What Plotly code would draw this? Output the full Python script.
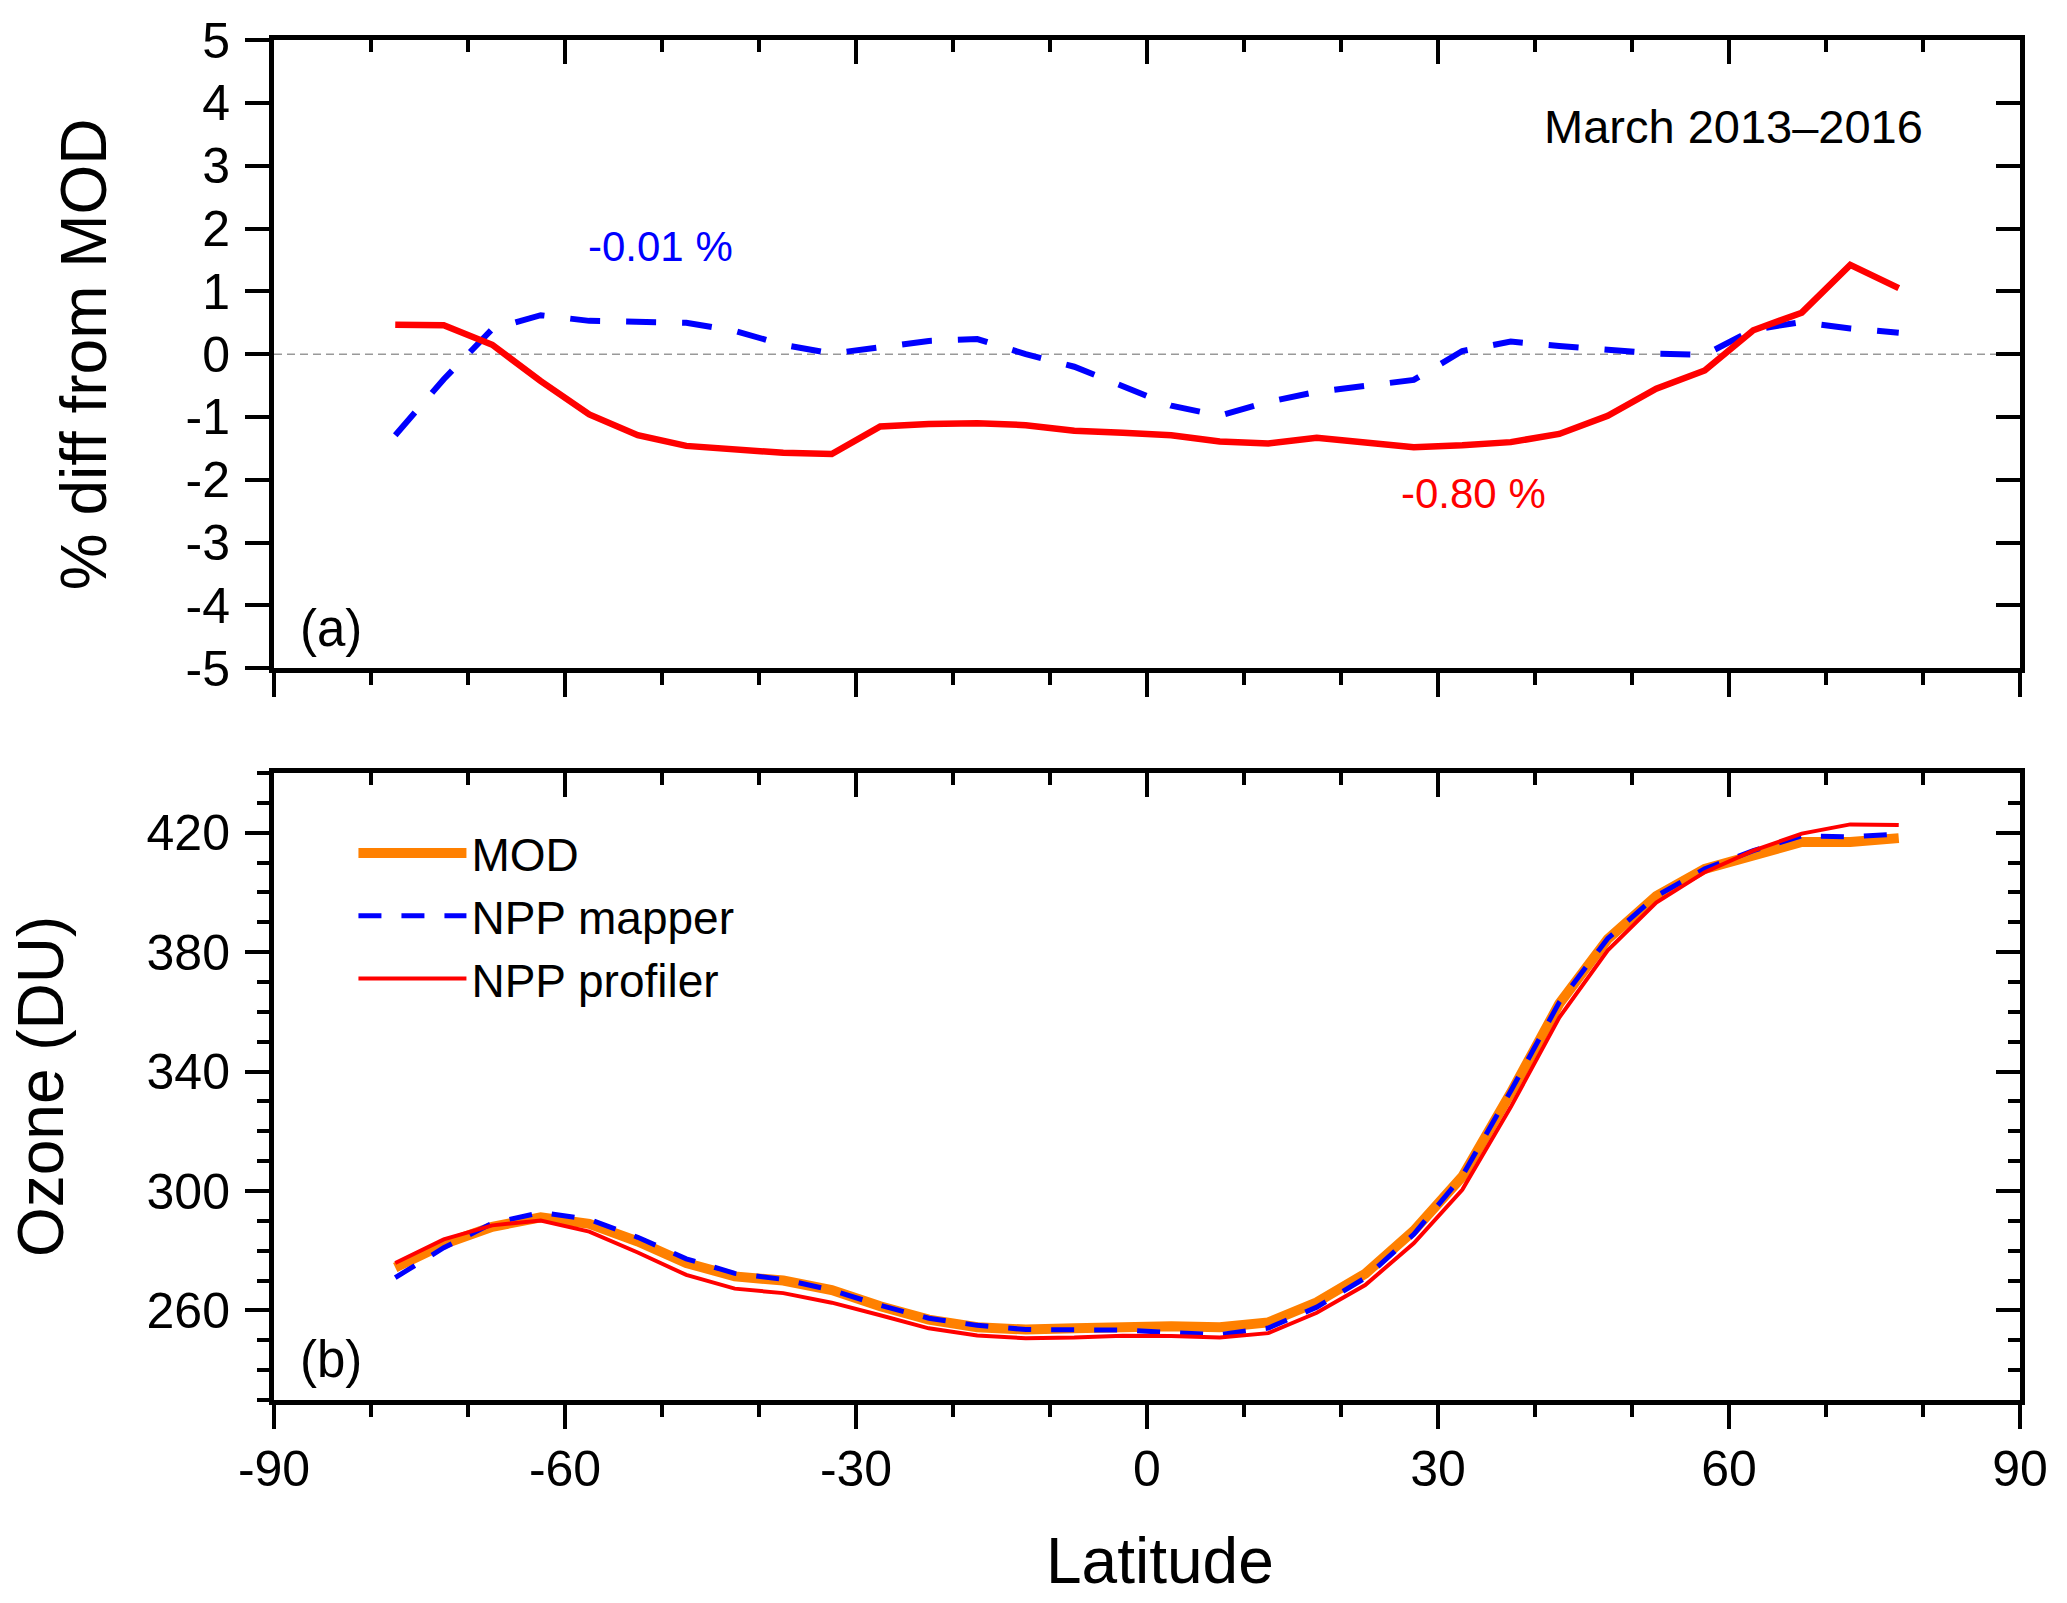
import plotly.graph_objects as go

# latitude bin centres (deg)
lat = [-77.5, -72.5, -67.5, -62.5, -57.5, -52.5, -47.5, -42.5, -37.5, -32.5,
       -27.5, -22.5, -17.5, -12.5, -7.5, -2.5, 2.5, 7.5, 12.5, 17.5,
       22.5, 27.5, 32.5, 37.5, 42.5, 47.5, 52.5, 57.5, 62.5, 67.5, 72.5, 77.5]

# (a) % difference from MOD
diff_mapper = [-1.29, -0.40, 0.40, 0.62, 0.53, 0.52, 0.50, 0.37, 0.15, 0.01,
               0.11, 0.21, 0.24, 0.00, -0.20, -0.50, -0.82, -0.98, -0.76, -0.60,
               -0.51, -0.41, 0.05, 0.20, 0.13, 0.06, 0.01, -0.01, 0.39, 0.51, 0.41, 0.34]
diff_profiler = [0.47, 0.46, 0.15, -0.43, -0.96, -1.29, -1.46, -1.51, -1.57, -1.59,
                 -1.15, -1.11, -1.10, -1.13, -1.22, -1.25, -1.29, -1.39, -1.42, -1.33,
                 -1.40, -1.48, -1.45, -1.40, -1.27, -0.98, -0.55, -0.26, 0.38, 0.66, 1.42, 1.05]

# (b) total ozone (DU)
ozone_mod = [274.4, 282.2, 288.0, 291.2, 289.0, 283.1, 275.9, 271.4, 270.0, 266.8,
             261.4, 256.9, 254.4, 253.6, 254.0, 254.7, 254.7, 254.4, 256.0, 262.7,
             272.3, 286.7, 304.8, 332.8, 362.7, 384.4, 398.8, 407.9, 412.4, 416.9, 416.9, 418.2]
ozone_mapper = [271.0, 281.0, 289.2, 292.8, 290.5, 284.5, 277.3, 272.4, 270.4, 266.8,
                261.7, 257.4, 255.0, 253.6, 253.5, 253.4, 252.6, 251.9, 254.1, 261.1,
                270.9, 285.5, 305.0, 333.5, 363.2, 384.6, 398.8, 407.9, 414.0, 419.0, 418.6, 419.6]
ozone_profiler = [275.9, 283.8, 288.5, 290.1, 286.4, 279.4, 271.9, 267.3, 265.8, 262.6,
                  258.4, 254.0, 251.6, 250.7, 250.9, 251.5, 251.4, 250.9, 252.4, 259.2,
                  268.5, 282.5, 300.4, 328.1, 358.1, 380.6, 396.6, 406.8, 414.0, 419.7, 422.8, 422.6]

lat_ticks = [-90, -60, -30, 0, 30, 60, 90]
lat_labels = ["-90", "-60", "-30", "0", "30", "60", "90"]
diff_ticks = [-5, -4, -3, -2, -1, 0, 1, 2, 3, 4, 5]
diff_labels = ["-5", "-4", "-3", "-2", "-1", "0", "1", "2", "3", "4", "5"]
ozone_ticks = [260, 300, 340, 380, 420]

FONT = "Arial, Liberation Sans, sans-serif"
BLUE = "#0000ff"
RED = "#ff0000"
ORANGE = "#ff8000"

fig = go.Figure()

# panel (a)
fig.add_scatter(x=lat, y=diff_mapper, mode="lines", showlegend=False,
                line=dict(color=BLUE, width=6, dash="30px,26px"), xaxis="x", yaxis="y")
fig.add_scatter(x=lat, y=diff_profiler, mode="lines", showlegend=False,
                line=dict(color=RED, width=6.5), xaxis="x", yaxis="y")

# panel (b)
fig.add_scatter(x=lat, y=ozone_mod, mode="lines", name="MOD",
                line=dict(color=ORANGE, width=10), xaxis="x2", yaxis="y2")
fig.add_scatter(x=lat, y=ozone_mapper, mode="lines", name="NPP mapper",
                line=dict(color=BLUE, width=5, dash="23px,20px"), xaxis="x2", yaxis="y2")
fig.add_scatter(x=lat, y=ozone_profiler, mode="lines", name="NPP profiler",
                line=dict(color=RED, width=4), xaxis="x2", yaxis="y2")

# empty traces so the mirrored (inward tick) axes get drawn
for xa, ya in [("x3", "y"), ("x", "y3"), ("x4", "y2"), ("x2", "y4")]:
    fig.add_scatter(x=[None], y=[None], mode="lines", showlegend=False,
                    hoverinfo="skip", xaxis=xa, yaxis=ya)

base = dict(showgrid=False, zeroline=False, linecolor="black", linewidth=5,
            tickcolor="black", tickwidth=4, ticklen=24,
            tickfont=dict(family=FONT, size=50, color="black"))
minor_out = dict(ticks="outside", ticklen=12, tickwidth=4, tickcolor="black")
minor_in = dict(ticks="inside", ticklen=12, tickwidth=4, tickcolor="black")

dom_a = [0.538, 1.0]
dom_b = [0.0, 0.461]

fig.update_layout(
    width=2067, height=1603,
    margin=dict(l=274, r=47, t=38, b=203),
    plot_bgcolor="white", paper_bgcolor="white",
    font=dict(family=FONT, color="black"),
    xaxis=dict(base, domain=[0, 1], anchor="y", range=[-90, 90], tickmode="array",
               tickvals=lat_ticks, showticklabels=False, showline=True, mirror=True,
               ticks="outside", minor=dict(minor_out, dtick=10, tick0=-90)),
    xaxis3=dict(base, overlaying="x", side="top", anchor="y", range=[-90, 90],
                tickmode="array", tickvals=lat_ticks, showticklabels=False,
                showline=False, ticks="inside", minor=dict(minor_in, dtick=10, tick0=-90)),
    yaxis=dict(base, domain=dom_a, anchor="x", range=[-5, 5], tickmode="array",
               tickvals=diff_ticks, ticktext=diff_labels, showline=True, mirror=True,
               ticks="outside", ticklabelstandoff=5),
    yaxis3=dict(base, overlaying="y", side="right", anchor="x", range=[-5, 5],
                tickmode="array", tickvals=diff_ticks, showticklabels=False,
                showline=False, ticks="inside"),
    xaxis2=dict(base, domain=[0, 1], anchor="y2", range=[-90, 90], tickmode="array",
                tickvals=lat_ticks, ticktext=lat_labels, showline=True, mirror=True,
                ticks="outside", ticklabelstandoff=-3,
                minor=dict(minor_out, dtick=10, tick0=-90)),
    xaxis4=dict(base, overlaying="x2", side="top", anchor="y2", range=[-90, 90],
                tickmode="array", tickvals=lat_ticks, showticklabels=False,
                showline=False, ticks="inside", minor=dict(minor_in, dtick=10, tick0=-90)),
    yaxis2=dict(base, domain=dom_b, anchor="x2", range=[230, 440], tickmode="array",
                tickvals=ozone_ticks, showline=True, mirror=True, ticks="outside",
                ticklabelstandoff=5, minor=dict(minor_out, dtick=10, tick0=0)),
    yaxis4=dict(base, overlaying="y2", side="right", anchor="x2", range=[230, 440],
                tickmode="array", tickvals=ozone_ticks, showticklabels=False,
                showline=False, ticks="inside", minor=dict(minor_in, dtick=10, tick0=0)),
    legend=dict(x=0.0455, y=0.429, xanchor="left", yanchor="top",
                font=dict(family=FONT, size=46, color="black"),
                bgcolor="rgba(0,0,0,0)", itemwidth=108, tracegroupgap=0),
)

# zero reference line in (a)
fig.add_shape(type="line", xref="x domain", yref="y", x0=0, x1=1, y0=0, y1=0,
              line=dict(color="#999999", width=1.5, dash="8px,5px"), layer="below")

ann = [
    dict(text="% diff from MOD", xref="paper", yref="paper", x=-0.1088, y=0.769,
         textangle=-90, font=dict(size=64)),
    dict(text="Ozone (DU)", xref="paper", yref="paper", x=-0.1337, y=0.2305,
         textangle=-90, font=dict(size=64)),
    dict(text="Latitude", xref="paper", yref="paper", x=0.5074, y=-0.1182,
         font=dict(size=64)),
    dict(text="March 2013\u20132016", xref="x", yref="y", x=60.5, y=3.63,
         font=dict(size=47)),
    dict(text="-0.01 %", xref="x", yref="y", x=-50.2, y=1.72,
         font=dict(size=42, color=BLUE)),
    dict(text="-0.80 %", xref="x", yref="y", x=33.7, y=-2.22,
         font=dict(size=42, color=RED)),
    dict(text="(a)", xref="x", yref="y", x=-84.1, y=-4.36, font=dict(size=51)),
    dict(text="(b)", xref="x2", yref="y2", x=-84.1, y=243.7, font=dict(size=51)),
]
for a in ann:
    a.update(showarrow=False, xanchor="center", yanchor="middle")
    a["font"] = dict(dict(family=FONT, color="black"), **a["font"])
    fig.add_annotation(**a)

# drop the browser's default 8px body margin so the figure fills the window
fig.write_html("out.html", config={"displayModeBar": False},
               post_script="document.body.style.margin='0px';")
